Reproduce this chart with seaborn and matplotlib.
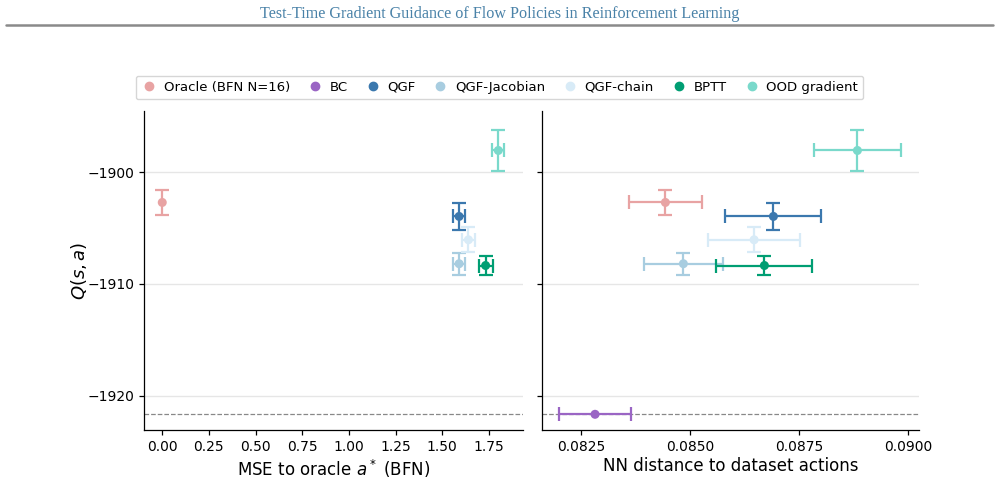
import numpy as np
import pandas as pd
import matplotlib
matplotlib.use("Agg")
import matplotlib.pyplot as plt
from matplotlib.lines import Line2D
import seaborn as sns

methods = ["Oracle (BFN N=16)", "BC", "QGF", "QGF-Jacobian", "QGF-chain", "BPTT", "OOD gradient"]
colors = ["#e8a3a3", "#9a65c4", "#3b78ae", "#a8cde0", "#d8ebf7", "#009e73", "#7ad9cb"]
q_mean = [-1902.72, -1921.67, -1903.97, -1908.2, -1906.06, -1908.36, -1898.07]
q_err = [1.12, 0.0, 1.22, 1.0, 1.1, 0.83, 1.87]
mse_mean = [0.0, np.nan, 1.59, 1.59, 1.64, 1.732, 1.80]
mse_err = [0.0, np.nan, 0.034, 0.034, 0.034, 0.038, 0.033]
nn_mean = [0.084437, 0.082827, 0.086910, 0.084849, 0.086468, 0.086704, 0.088833]
nn_err = [0.00084, 0.00082, 0.0011, 0.00091, 0.00105, 0.0011, 0.001]
bc_baseline = -1921.67

df = pd.DataFrame({"method": methods, "q": q_mean, "qe": q_err,
                   "mse": mse_mean, "msee": mse_err, "nn": nn_mean, "nne": nn_err})

sns.set_theme(style="ticks")
plt.rcParams["font.family"] = ["DejaVu Sans"]
plt.rcParams.update({
    "text.color": "black", "axes.labelcolor": "black",
    "xtick.color": "black", "ytick.color": "black",
    "axes.edgecolor": "black", "axes.linewidth": 0.9,
    "xtick.major.size": 3.5, "ytick.major.size": 3.5,
    "xtick.major.width": 0.9, "ytick.major.width": 0.9,
    "xtick.major.pad": 3.5, "ytick.major.pad": 3.5,
    "axes.labelpad": 3.5,
})

fig = plt.figure(figsize=(9.99, 4.82), dpi=100)
ax1 = fig.add_axes([0.1441, 0.1073, 0.3790, 0.6624])
ax2 = fig.add_axes([0.5423, 0.1073, 0.3777, 0.6624], sharey=ax1)

pal = dict(zip(methods, colors))

for ax, xcol, xecol in [(ax1, "mse", "msee"), (ax2, "nn", "nne")]:
    sub = df.dropna(subset=[xcol])
    for _, r in sub.iterrows():
        xe = r[xecol] if r[xecol] > 0 else None
        ye = r["qe"] if r["qe"] > 0 else None
        ax.errorbar(r[xcol], r["q"], xerr=xe, yerr=ye, fmt="none",
                    ecolor=pal[r["method"]], elinewidth=1.6, capsize=4.8,
                    capthick=1.6, zorder=3)
    sns.scatterplot(data=sub, x=xcol, y="q", hue="method", palette=pal,
                    hue_order=methods, s=42, edgecolor="none", legend=False,
                    ax=ax, zorder=4)
    ax.axhline(bc_baseline, color="#888888", linestyle="--", linewidth=0.9, zorder=1)
    ax.yaxis.grid(True, color="#e6e6e6", linewidth=1.0)
    ax.set_axisbelow(True)
    sns.despine(ax=ax)
    ax.tick_params(labelsize=10)

ax1.set_xlim(-0.098, 1.930)
ax1.set_xticks(np.arange(0, 1.76, 0.25))
ax1.set_xticklabels([f"{v:.2f}" for v in np.arange(0, 1.76, 0.25)])
ax2.set_xlim(0.081607, 0.090245)
ax2.set_xticks([0.0825, 0.0850, 0.0875, 0.0900])
ax2.set_xticklabels(["0.0825", "0.0850", "0.0875", "0.0900"])
ax1.set_ylim(-1923.10, -1894.54)
ax1.set_yticks([-1920, -1910, -1900])
ax1.set_yticklabels(["\u22121920", "\u22121910", "\u22121900"])
ax2.tick_params(labelleft=False)

ax1.set_xlabel("MSE to oracle $a^*$ (BFN)", fontsize=12, labelpad=2.5)
ax2.set_xlabel("NN distance to dataset actions", fontsize=12, labelpad=2.5)
ax1.set_ylabel("$Q(s, a)$", fontsize=13, labelpad=-1)
ax2.set_ylabel("")

handles = [Line2D([], [], marker="o", linestyle="none", color=c, markersize=6)
           for c in colors]
fig.legend(handles, methods, loc="upper center", bbox_to_anchor=(0.5, 1 - 69 / 482),
           ncol=7, fontsize=9.5, frameon=True, handletextpad=0.5, columnspacing=1.3,
           borderpad=0.4, handlelength=1.2, edgecolor="#cccccc")

fig.text(0.5, 1 - 14 / 482, "Test-Time Gradient Guidance of Flow Policies in Reinforcement Learning",
         ha="center", va="center", fontsize=11.6, color="#4a82a8", family="Liberation Serif")
fig.add_artist(Line2D([6 / 999, 993 / 999], [1 - 25 / 482, 1 - 25 / 482],
                      color="#8a8a8a", linewidth=1.8, transform=fig.transFigure))

fig.savefig("out.png", dpi=100)
